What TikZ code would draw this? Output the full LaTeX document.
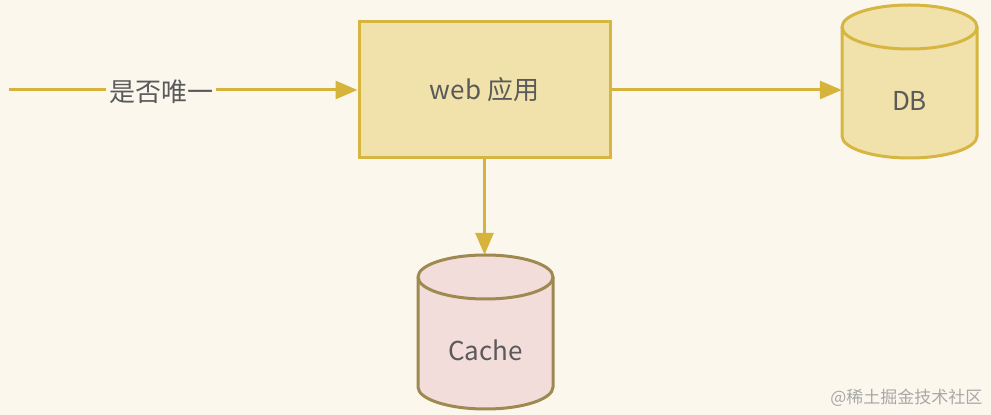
\documentclass[tikz,border=0pt]{standalone}
\usepackage{fontspec}
\setmainfont{Noto Sans CJK SC}
\usetikzlibrary{arrows.meta}
\definecolor{bg}{HTML}{FBF7EC}
\definecolor{boxfill}{HTML}{F0E2AA}
\definecolor{boxline}{HTML}{D6B540}
\definecolor{arrowc}{HTML}{D6B33A}
\definecolor{cachefill}{HTML}{F3DDDB}
\definecolor{cacheline}{HTML}{9E8A50}
\definecolor{txt}{HTML}{5A5A5A}
\definecolor{wm}{HTML}{A8A8A8}
\tikzset{
  conn/.style={draw=arrowc, line width=3pt, -{Triangle[length=22pt,width=18pt]}},
  webbox/.style={draw=boxline, fill=boxfill, line width=3pt, minimum width=251pt, minimum height=136pt, inner sep=0pt},
  bounds/.style={draw=none, inner sep=0pt},
  lbl/.style={text=txt, font=\fontsize{26}{30}\selectfont},
  cylcol/.style={draw=boxline, fill=boxfill, line width=3pt},
  cylcache/.style={draw=cacheline, fill=cachefill, line width=3pt},
}
\begin{document}
\begin{tikzpicture}[x=1pt,y=1pt]
\fill[bg] (0,0) rectangle (991,415);
\useasboundingbox (0,0) rectangle (991,415);

% web box
\node[webbox, lbl] (web) at (484.5,325) {web 应用};

% DB cylinder
\node[bounds, minimum width=135pt, minimum height=153pt] (db) at (909.5,333.5) {};
\draw[cylcol] (842,388) -- (842,279) arc[start angle=180,end angle=360,x radius=67.5,y radius=22]
  -- (977,388) arc[start angle=0,end angle=180,x radius=67.5,y radius=22] -- cycle;
\draw[cylcol, fill=none] (842,388) arc[start angle=180,end angle=360,x radius=67.5,y radius=22];
\node[lbl] (dbtxt) at (909.5,314) {DB};

% Cache cylinder
\node[bounds, minimum width=135pt, minimum height=154pt] (cache) at (485.5,83) {};
\draw[cylcache] (418,138) -- (418,28) arc[start angle=180,end angle=360,x radius=67.5,y radius=22]
  -- (553,138) arc[start angle=0,end angle=180,x radius=67.5,y radius=22] -- cycle;
\draw[cylcache, fill=none] (418,138) arc[start angle=180,end angle=360,x radius=67.5,y radius=22];
\node[lbl] (cachetxt) at (485.5,65) {Cache};

% connectors
\coordinate (start) at (9,325);
\draw[conn] (start) -- (web.west);
\node[lbl, fill=bg, inner xsep=3pt, inner ysep=2pt] (q) at (161,323) {是否唯一};
\draw[conn] (web.east) -- (web.east -| db.west);
\draw[conn] (web.south) -- (web.south |- cache.north);

% watermark
\node[text=wm, font=\fontsize{17}{20}\selectfont, anchor=east] (wmk) at (986,17) {@稀土掘金技术社区};
\end{tikzpicture}
\end{document}
